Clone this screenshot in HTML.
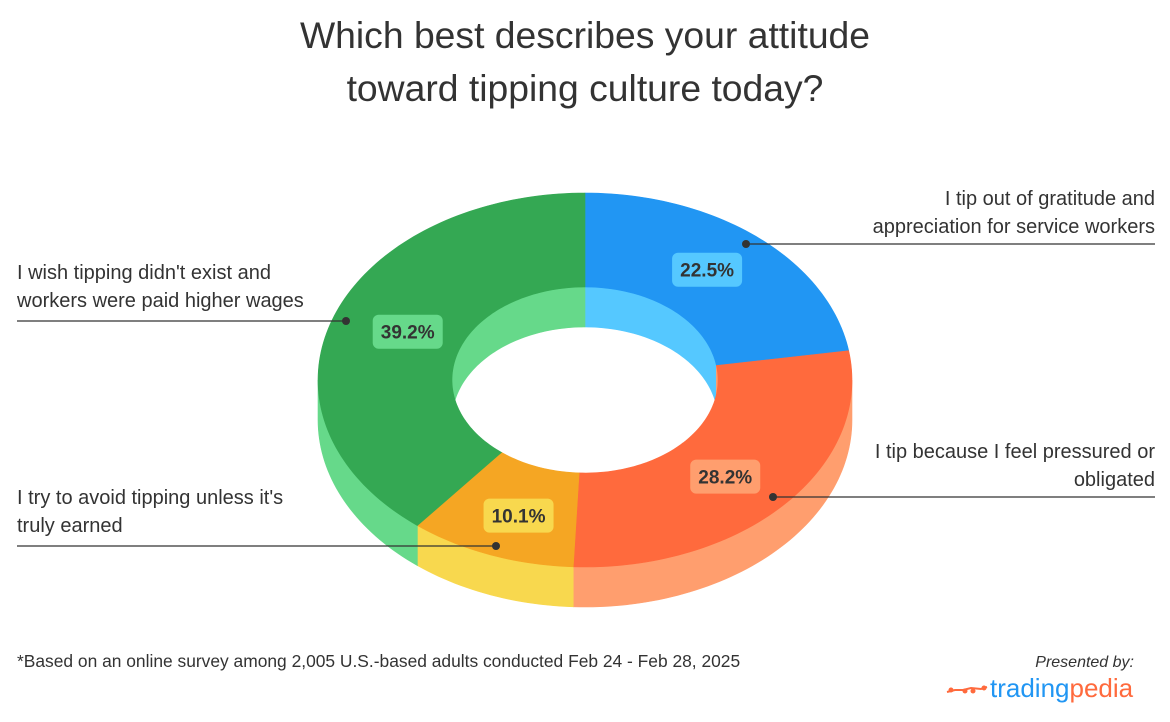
<!DOCTYPE html>
<html><head><meta charset="utf-8">
<style>
body{margin:0;background:#fff;width:1170px;height:722px;overflow:hidden;font-family:"Liberation Sans",sans-serif;}
svg{display:block}
</style></head>
<body>
<svg id="chart" width="1170" height="722">
<text x="585" y="48" text-anchor="middle" font-size="37.3" fill="#333">Which best describes your attitude</text>
<text x="585" y="101" text-anchor="middle" font-size="37.3" fill="#333">toward tipping culture today?</text>
<g id="pie"></g>
<g id="labels"></g>
<text x="17" y="667" font-size="17.4" fill="#333">*Based on an online survey among 2,005 U.S.-based adults conducted Feb 24 - Feb 28, 2025</text>
<text x="1134" y="667" text-anchor="end" font-size="16" font-style="italic" fill="#333">Presented by:</text>
<g>
<polyline points="947,692 955,690 963,690 971,688 981,689 987,687" fill="none" stroke="#FF6A3D" stroke-width="2"/>
<circle cx="951" cy="690" r="2.5" fill="#FF6A3D"/><circle cx="965" cy="691" r="2.5" fill="#FF6A3D"/><circle cx="973" cy="691" r="2.5" fill="#FF6A3D"/><circle cx="984" cy="688" r="2.5" fill="#FF6A3D"/>
<text x="990" y="697" font-size="26" fill="#2196F3">trading<tspan fill="#FF6A3D">pedia</tspan></text>
</g>
</svg>
<script>
const categories=["I tip out of gratitude and appreciation for service workers","I tip because I feel pressured or obligated","I try to avoid tipping unless it's truly earned","I wish tipping didn't exist and workers were paid higher wages"];
const values=[22.5,28.2,10.1,39.2];
const valueLabels=["22.5%","28.2%","10.1%","39.2%"];
const topColors=["#2196F3","#FF6A3D","#F5A623","#34A853"];
const sideColors=["#55C8FF","#FF9E6E","#F8D84E","#66D98A"];
const NS="http://www.w3.org/2000/svg";
const cx=585,cy=380,rx=267,ry=187,irx=133,iry=93,D=40;
const pie=document.getElementById('pie'),lab=document.getElementById('labels');
const total=values.reduce((a,b)=>a+b,0);
function P(a,r1,r2,dy){return [cx+r1*Math.cos(a),cy+r2*Math.sin(a)+(dy||0)];}
function arc(a1,a2,r1,r2,dy){let s="";const n=Math.max(2,Math.ceil(Math.abs(a2-a1)*40));for(let i=0;i<=n;i++){const p=P(a1+(a2-a1)*i/n,r1,r2,dy);s+=(i?"L":"")+p[0].toFixed(2)+","+p[1].toFixed(2);}return s;}
function add(parent,d,fill,name){const e=document.createElementNS(NS,'path');e.setAttribute('d',d);e.setAttribute('fill',fill);e.setAttribute('stroke',fill);e.setAttribute('stroke-width','0.6');


parent.appendChild(e);}
const angs=[];let acc=-Math.PI/2;
values.forEach(v=>{const a2=acc+v/total*2*Math.PI;angs.push([acc,a2]);acc=a2;});
angs.forEach(([a1,a2],i)=>{for(const off of [0,2*Math.PI,-2*Math.PI]){const s=Math.max(a1+off,0),e=Math.min(a2+off,Math.PI);if(e>s){add(pie,"M"+arc(s,e,rx,ry,0)+"L"+arc(e,s,rx,ry,D)+"Z",sideColors[i],'outer-wall-'+i);}}});
angs.forEach(([a1,a2],i)=>{for(const off of [0,2*Math.PI,-2*Math.PI]){const s=Math.max(a1+off,Math.PI),e=Math.min(a2+off,2*Math.PI);if(e>s){add(pie,"M"+arc(s,e,irx,iry,0)+"L"+arc(e,s,irx,iry,D)+"Z",sideColors[i],'inner-wall-'+i);}}});
angs.forEach(([a1,a2],i)=>{add(pie,"M"+arc(a1,a2,rx,ry,0)+"L"+arc(a2,a1,irx,iry,0)+"Z",topColors[i],'slice-'+i);});
angs.forEach(([a1,a2],i)=>{const m=(a1+a2)/2;const p=P(m,188,145,0);
const r=document.createElementNS(NS,'rect');r.setAttribute('x',p[0]-35);r.setAttribute('y',p[1]-17);r.setAttribute('width',70);r.setAttribute('height',34);r.setAttribute('rx',6);r.setAttribute('fill',sideColors[i]);


lab.appendChild(r);
const t=document.createElementNS(NS,'text');t.setAttribute('x',p[0]);t.setAttribute('y',p[1]+7);t.setAttribute('text-anchor','middle');t.setAttribute('font-size','19');t.setAttribute('font-weight','bold');t.setAttribute('fill','#333');t.textContent=valueLabels[i];


lab.appendChild(t);});
const leaders=[{dot:[746,244],end:1155,lines:["I tip out of gratitude and","appreciation for service workers"],ty:205,anchor:"end"},
{dot:[773,497],end:1155,lines:["I tip because I feel pressured or","obligated"],ty:458,anchor:"end"},
{dot:[496,546],end:17,lines:["I try to avoid tipping unless it's","truly earned"],ty:504,anchor:"start"},
{dot:[346,321],end:17,lines:["I wish tipping didn't exist and","workers were paid higher wages"],ty:279,anchor:"start"}];
leaders.forEach((L,i)=>{const l=document.createElementNS(NS,'line');l.setAttribute('x1',L.dot[0]);l.setAttribute('y1',L.dot[1]);l.setAttribute('x2',L.end);l.setAttribute('y2',L.dot[1]);l.setAttribute('stroke','#333');l.setAttribute('stroke-width','1.3');


lab.appendChild(l);
const c=document.createElementNS(NS,'circle');c.setAttribute('cx',L.dot[0]);c.setAttribute('cy',L.dot[1]);c.setAttribute('r',4);c.setAttribute('fill','#333');


lab.appendChild(c);
L.lines.forEach((s,j)=>{const t=document.createElementNS(NS,'text');t.setAttribute('x',L.end);t.setAttribute('y',L.ty+j*28);t.setAttribute('text-anchor',L.anchor);t.setAttribute('font-size','20');t.setAttribute('fill','#333');t.textContent=s;


lab.appendChild(t);});});
</script>
</body></html>
